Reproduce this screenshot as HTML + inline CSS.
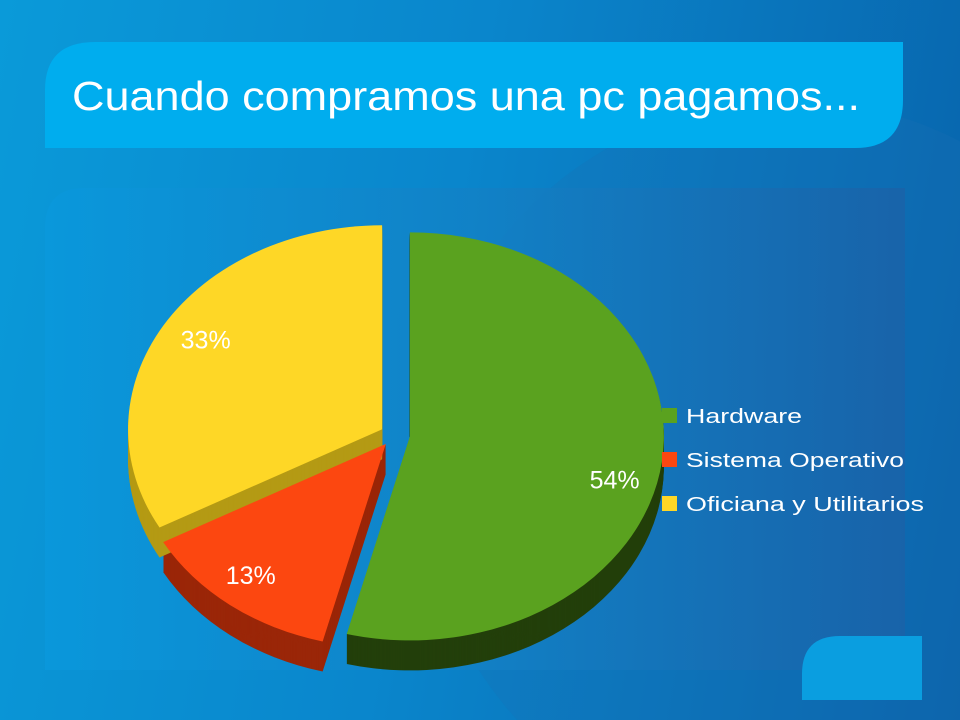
<!DOCTYPE html>
<html style="margin:0;width:960px;height:720px;overflow:hidden"><head><meta charset="utf-8"><style>
body{margin:0;width:960px;height:720px;overflow:hidden;position:relative;font-family:"Liberation Sans","DejaVu Sans",sans-serif}
#bg{position:absolute;left:0;top:0;width:960px;height:720px;background:linear-gradient(100deg,#0a9ad9 0%,#0a86cc 45%,#0862aa 100%)}
svg{display:block}
</style></head><body>
<div id="bg"></div>
<svg width="960" height="720" style="position:absolute;left:0;top:0">
<defs>
<linearGradient id="pg" x1="0" x2="1" y1="0" y2="0"><stop offset="0" stop-color="#0a98dc"/><stop offset="0.5" stop-color="#1281c6"/><stop offset="1" stop-color="#1a62a8"/></linearGradient>
</defs>
<circle cx="790" cy="470" r="370" fill="#1a6fb5" opacity="0.25"/>
<path d="M95,42 H903 V100 Q903,148 855,148 H45 V90 Q45,42 95,42 Z" fill="#00adee"/>
<text x="72" y="110" font-size="41" fill="#fff" textLength="788" lengthAdjust="spacingAndGlyphs">Cuando compramos una pc pagamos...</text>
<path d="M85,188 H905 V670 H45 V228 Q45,188 85,188 Z" fill="url(#pg)" opacity="0.85"/>
<path d="M840,636 H922 V700 H802 V674 Q802,636 840,636 Z" fill="#0a9ee0"/>
<g id="pie"></g>
<g>
<g><rect x="662" y="408" width="15" height="15" fill="#5aa21f"/><text x="686" y="423" font-size="20" fill="#fff" textLength="116" lengthAdjust="spacingAndGlyphs">Hardware</text></g>
<g><rect x="662" y="452" width="15" height="15" fill="#fc4710"/><text x="686" y="467" font-size="20" fill="#fff" textLength="218" lengthAdjust="spacingAndGlyphs">Sistema Operativo</text></g>
<g><rect x="662" y="496" width="15" height="15" fill="#fed726"/><text x="686" y="511" font-size="20" fill="#fff" textLength="238" lengthAdjust="spacingAndGlyphs">Oficiana y Utilitarios</text></g>
</g>
</svg>
<script>
const categories=["Hardware","Sistema Operativo","Oficiana y Utilitarios"];
const values=[54,13,33];
const labels=["54%","13%","33%"];
const topColors=["#5aa21f","#fc4710","#fed726"];
const sideColors=["#233f0a","#9a2608","#b49a14"];
const names=["slice-hardware","slice-sistema-operativo","slice-oficina"];
const cx=395,cy=435,rx=254,ry=204,depth=30,explode=15;
const labelDX=[-12,-23,-19],labelDY=[21,15,-15];
const NS="http://www.w3.org/2000/svg";
const g=document.getElementById('pie');
const total=values.reduce((a,b)=>a+b,0);
function pt(a,ox,oy,dy){return [ox+rx*Math.sin(a),oy-ry*Math.cos(a)+dy];}
function slicePath(a0,a1,ox,oy,dy){
  const p0=pt(a0,ox,oy,dy),p1=pt(a1,ox,oy,dy);
  const large=(a1-a0)>Math.PI?1:0;
  return `M${ox},${oy+dy} L${p0[0]},${p0[1]} A${rx},${ry} 0 ${large} 1 ${p1[0]},${p1[1]} Z`;
}
let acc=0;const sl=[];
values.forEach((v,i)=>{
  const a0=acc/total*2*Math.PI;acc+=v;const a1=acc/total*2*Math.PI;
  const m=(a0+a1)/2;
  sl.push({a0,a1,m,ox:cx+explode*Math.sin(m),oy:cy-explode*0.75*Math.cos(m),i});
});
sl.forEach(s=>{
  const side=document.createElementNS(NS,'g');
  
  
  for(let d=depth;d>0;d-=1){
    const p=document.createElementNS(NS,'path');
    p.setAttribute('d',slicePath(s.a0,s.a1,s.ox,s.oy,d));
    p.setAttribute('fill',sideColors[s.i]);
    side.appendChild(p);
  }
  g.appendChild(side);
});
sl.forEach(s=>{
  const p=document.createElementNS(NS,'path');
  p.setAttribute('d',slicePath(s.a0,s.a1,s.ox,s.oy,0));
  p.setAttribute('fill',topColors[s.i]);
  
  
  g.appendChild(p);
});
sl.forEach(s=>{
  const t=document.createElementNS(NS,'text');
  const lp=pt(s.m,s.ox,s.oy,0);
  const f=s.i===0?0.86:0.72;
  t.setAttribute('x',s.ox+(lp[0]-s.ox)*f+labelDX[s.i]);
  t.setAttribute('y',s.oy+(lp[1]-s.oy)*f+9+labelDY[s.i]);
  t.setAttribute('text-anchor','middle');
  t.setAttribute('font-size','25');
  t.setAttribute('fill','#fff');
  t.textContent=labels[s.i];
  
  
  g.appendChild(t);
});
</script>
</body></html>
